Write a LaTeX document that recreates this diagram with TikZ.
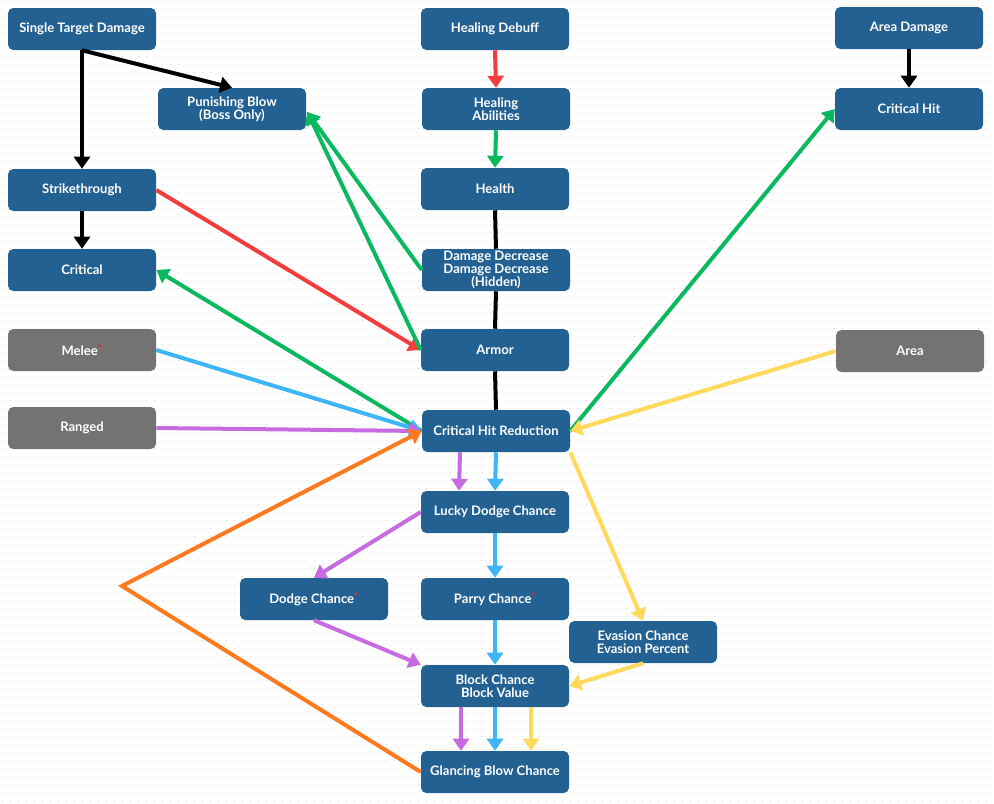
\documentclass[tikz,border=0pt]{standalone}
\usepackage{fontspec}
\setmainfont{Lato}
\usetikzlibrary{arrows.meta,calc,patterns.meta}
\definecolor{boxblue}{RGB}{35,97,146}
\definecolor{boxgray}{RGB}{115,115,115}
\definecolor{lred}{RGB}{245,60,60}
\definecolor{lgreen}{RGB}{10,185,95}
\definecolor{lblue}{RGB}{61,181,247}
\definecolor{lpurple}{RGB}{199,107,224}
\definecolor{lyellow}{RGB}{255,217,92}
\definecolor{lorange}{RGB}{255,122,31}
\definecolor{astred}{RGB}{230,40,40}
\tikzdeclarepattern{
  name=bgdots,
  type=uncolored,
  bounding box={(0pt,0pt) and (6pt,6pt)},
  tile size={(6pt,6pt)},
  code={\fill (3pt,3pt) circle (0.55pt);}
}
\newcommand{\astmark}{\raisebox{2.5pt}{\fontsize{8}{8}\selectfont\color{astred}*}}
\begin{document}
\begin{tikzpicture}[x=0.75pt,y=-0.75pt,
  box/.style={rectangle, rounded corners=4pt, fill=boxblue, text=white,
    font=\fontsize{9.8}{9.6}\selectfont\bfseries, minimum width=111pt,
    minimum height=31.5pt, align=center, inner sep=1pt},
  graybox/.style={box, fill=boxgray},
  link/.style={line width=3pt, -{Triangle[width=12pt,length=9pt]}},
  plainlink/.style={line width=3pt},
]
\useasboundingbox (0,0) rectangle (994,803);
\fill[white] (0,0) rectangle (994,803);
\fill[pattern=bgdots, pattern color=black!14] (0,0) rectangle (994,803);

% nodes
\node[box] (std) at (82,29) {Single Target Damage};
\node[box] (pb) at (232,109) {Punishing Blow\\(Boss Only)};
\node[box] (stk) at (82,190) {Strikethrough};
\node[box] (crit) at (82,270) {Critical};
\node[graybox] (melee) at (82,350) {Melee\astmark};
\node[graybox] (ranged) at (82,428) {Ranged};
\node[box] (hd) at (495,29) {Healing Debuff};
\node[box] (ha) at (496,109) {Healing\\Abilities};
\node[box] (health) at (495,189) {Health};
\node[box] (dd) at (496,270) {Damage Decrease\\Damage Decrease\\(Hidden)};
\node[box] (armor) at (495,350) {Armor};
\node[box] (chr) at (496,431) {Critical Hit Reduction};
\node[box] (lucky) at (495,512) {Lucky Dodge Chance};
\node[box] (dodge) at (314,599) {Dodge Chance\astmark};
\node[box] (parry) at (495,599) {Parry Chance\astmark};
\node[box] (ev) at (643,642) {Evasion Chance\\Evasion Percent};
\node[box] (block) at (495,686) {Block Chance\\Block Value};
\node[box] (glance) at (495,772) {Glancing Blow Chance};
\node[box] (ad) at (909,28) {Area Damage};
\node[box] (ch) at (909,109) {Critical Hit};
\node[graybox] (area) at (910,351) {Area};
\coordinate (oc) at (122,586);

% black
\draw[link] (std.south) -- (stk.north);
\draw[link] (std.south) -- (pb.north);
\draw[link] (stk.south) -- (crit.north);
\draw[link] (ad.south) -- (ch.north);
\draw[plainlink] (health.south) -- (dd.north);
\draw[plainlink] (dd.south) -- (armor.north);
\draw[plainlink] (armor.south) -- (chr.north);
% red
\draw[link, lred] (hd.south) -- (ha.north);
\draw[link, lred] (stk.east) -- (armor.west);
% green
\draw[link, lgreen] (ha.south) -- (health.north);
\draw[link, lgreen] (dd.west) -- ($(pb.east)+(1,3)$);
\draw[link, lgreen] (armor.west) -- ($(pb.east)+(1,3)$);
\draw[link, lgreen] (chr.west) -- (crit.east);
\draw[link, lgreen] (chr.east) -- (ch.west);
% blue
\draw[link, lblue] (melee.east) -- (chr.west);
\draw[link, lblue] (chr.south) -- (lucky.north);
\draw[link, lblue] (lucky.south) -- (parry.north);
\draw[link, lblue] (parry.south) -- (block.north);
\draw[link, lblue] (block.south) -- (glance.north);
% purple
\draw[link, lpurple] (ranged.east) -- (chr.west);
\draw[link, lpurple] ([xshift=-27pt]chr.south) -- ([xshift=-27pt]lucky.north);
\draw[link, lpurple] (lucky.west) -- (dodge.north);
\draw[link, lpurple] (dodge.south) -- (block.north west);
\draw[link, lpurple] ([xshift=-25.5pt]block.south) -- ([xshift=-25.5pt]glance.north);
% yellow
\draw[link, lyellow] (area.west) -- (chr.east);
\draw[link, lyellow] (chr.south east) -- (ev.north);
\draw[link, lyellow] (ev.south) -- (block.east);
\draw[link, lyellow] ([xshift=27pt]block.south) -- ([xshift=27pt]glance.north);
% orange
\draw[link, lorange] (glance.west) -- (oc) -- (chr.west);
\end{tikzpicture}
\end{document}
